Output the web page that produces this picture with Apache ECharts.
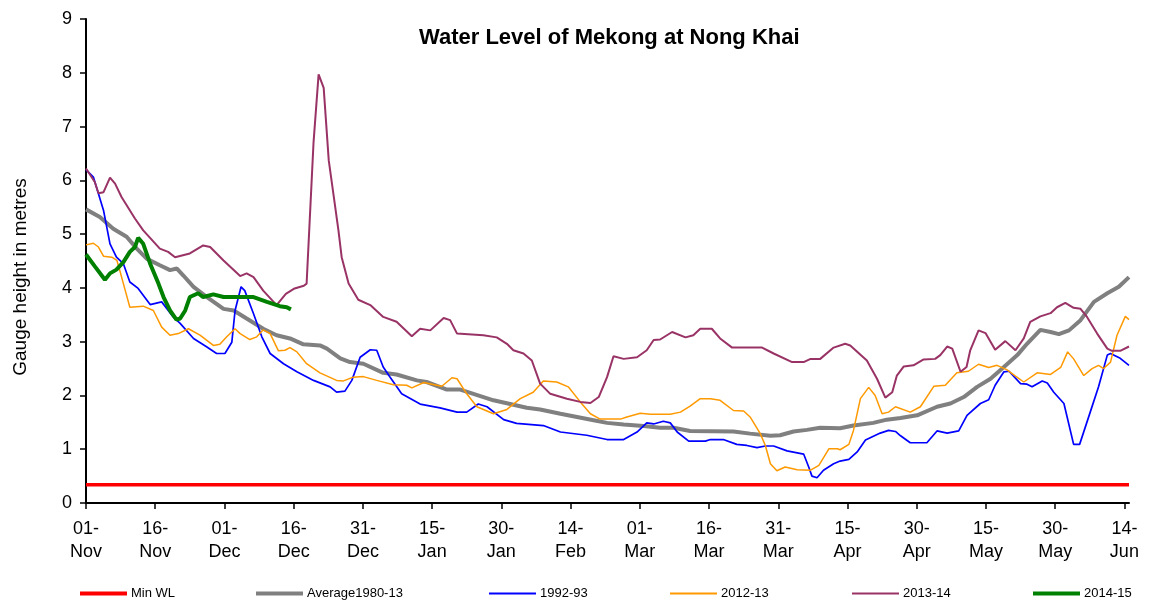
<!DOCTYPE html>
<html>
<head>
<meta charset="utf-8">
<script src="https://cdn.jsdelivr.net/npm/echarts@6/dist/echarts.min.js"></script>
<style>
html,body{margin:0;padding:0;background:#fff;}
#chart{width:1150px;height:604px;}
</style>
</head>
<body>
<div id="chart"></div>
<script>
// Day index 0 = 01-Nov; tick every 15 days
const tickLabels = ["01-\nNov","16-\nNov","01-\nDec","16-\nDec","31-\nDec","15-\nJan","30-\nJan","14-\nFeb","01-\nMar","16-\nMar","31-\nMar","15-\nApr","30-\nApr","15-\nMay","30-\nMay","14-\nJun"];
const lastDay = 226;
const minWL = 0.34;

// [day, gauge height m]
const average1980_13 = [[0,5.46],[3,5.32],[5.9,5.10],[8.8,4.95],[11,4.73],[13.2,4.54],[16,4.42],[18.2,4.33],[19.7,4.36],[21.1,4.23],[23.3,4.02],[26.2,3.83],[29.8,3.61],[32,3.58],[34.8,3.43],[38.4,3.24],[41.3,3.12],[44.2,3.06],[47.1,2.95],[50.7,2.93],[52.2,2.87],[55.1,2.69],[57.2,2.62],[60.1,2.59],[64.4,2.42],[67.3,2.39],[71.7,2.28],[73.8,2.25],[78.2,2.11],[81.1,2.11],[88.3,1.91],[91.9,1.84],[95.5,1.77],[98.4,1.74],[102.8,1.66],[106.4,1.60],[110,1.54],[112.9,1.49],[116.5,1.46],[120.8,1.43],[124.4,1.40],[127.3,1.40],[130.9,1.34],[140.3,1.33],[143.9,1.29],[148.3,1.25],[150.4,1.26],[153.3,1.33],[156.2,1.36],[159.1,1.40],[163.4,1.39],[166.3,1.44],[170.6,1.49],[173.5,1.55],[176.5,1.58],[180.1,1.63],[184.4,1.79],[187.3,1.85],[190.2,1.97],[193.1,2.16],[196,2.31],[198.9,2.53],[201.8,2.75],[203.9,2.96],[206.8,3.22],[209,3.18],[210.8,3.14],[213,3.21],[215.5,3.40],[218.4,3.74],[221.3,3.90],[223.8,4.02],[226,4.20]];

const y1992_93 = [[0,6.20],[1.6,6.06],[2.7,5.75],[3.8,5.44],[5.2,4.82],[6.6,4.57],[8.1,4.45],[9.5,4.11],[11.3,3.99],[13.9,3.69],[16.4,3.74],[18.9,3.46],[20.4,3.34],[23.3,3.06],[26.2,2.90],[28.3,2.78],[30.1,2.78],[31.6,2.99],[32.3,3.58],[33.6,4.02],[34.4,3.95],[36.3,3.52],[38.1,3.09],[39.9,2.78],[42.8,2.59],[45.7,2.44],[49.3,2.28],[52.9,2.16],[54.3,2.06],[56.1,2.08],[57.6,2.28],[59.4,2.71],[61.6,2.85],[63,2.84],[64.4,2.53],[65.9,2.34],[68.4,2.03],[72.4,1.84],[76.7,1.77],[80.4,1.69],[82.5,1.69],[85,1.84],[86.9,1.79],[90.5,1.55],[93.3,1.48],[99.1,1.44],[102.8,1.32],[108.5,1.26],[112.9,1.18],[116.5,1.18],[119.4,1.32],[121.5,1.49],[123,1.47],[125.1,1.52],[126.6,1.49],[128.1,1.32],[130.6,1.15],[134.2,1.15],[135.3,1.18],[138.1,1.18],[141,1.09],[143.2,1.07],[145.4,1.03],[147.2,1.06],[149,1.06],[151.9,0.97],[155.5,0.91],[156.6,0.67],[157.3,0.50],[158.4,0.47],[159.8,0.61],[162,0.73],[163.4,0.78],[165.3,0.81],[167.1,0.95],[168.9,1.17],[172.1,1.30],[173.9,1.35],[175.4,1.33],[176.5,1.25],[178.6,1.12],[182.2,1.12],[184.4,1.34],[186.6,1.30],[189.1,1.34],[190.9,1.63],[193.8,1.85],[195.6,1.92],[197,2.19],[198.9,2.44],[200,2.45],[202.5,2.22],[203.9,2.21],[205,2.16],[207.2,2.27],[208.3,2.23],[209.7,2.06],[211.9,1.85],[214,1.09],[215.3,1.09],[217.6,1.69],[219.4,2.16],[221.3,2.75],[222,2.78],[224.1,2.69],[226,2.56]];

const y2012_13 = [[0,4.80],[1.6,4.83],[2.7,4.76],[3.8,4.59],[5.6,4.57],[6.7,4.51],[7.4,4.30],[8.1,4.08],[9.5,3.64],[12.4,3.66],[14.6,3.58],[16.4,3.27],[18.2,3.12],[20,3.15],[22.2,3.24],[24.7,3.12],[27.6,2.93],[29,2.95],[30.5,3.09],[32.3,3.24],[33.4,3.15],[35.5,3.04],[37,3.09],[38.4,3.22],[39.9,3.15],[41.7,2.83],[43.1,2.84],[44.2,2.89],[45.7,2.81],[47.8,2.59],[50.7,2.42],[54.3,2.28],[55.8,2.27],[57.9,2.34],[60.1,2.35],[63,2.28],[66.6,2.20],[69.5,2.19],[70.6,2.14],[73.2,2.24],[76,2.19],[77.1,2.17],[79.3,2.33],[80.4,2.31],[82.5,2.03],[84.7,1.79],[88.3,1.66],[91.2,1.74],[94.1,1.94],[96.9,2.06],[99.1,2.27],[102,2.25],[104.5,2.16],[107.1,1.88],[109.3,1.66],[111.4,1.56],[115.8,1.56],[117.2,1.60],[120.1,1.67],[122.3,1.65],[126.6,1.65],[128.8,1.69],[130.9,1.80],[133.1,1.94],[135.3,1.94],[137.4,1.91],[140.3,1.72],[142.5,1.71],[143.9,1.60],[146.1,1.29],[147.2,1.07],[148.3,0.73],[149.7,0.60],[151.5,0.67],[154.1,0.62],[157,0.61],[158.8,0.70],[161,1.01],[162.8,1.01],[163.4,0.99],[165.3,1.09],[166.3,1.35],[167.8,1.94],[169.6,2.15],[171,2.00],[172.5,1.66],[173.9,1.69],[175.4,1.79],[178.6,1.69],[180.8,1.79],[183.7,2.17],[186.2,2.19],[188.7,2.42],[191.2,2.45],[193.4,2.58],[195.6,2.52],[197.4,2.56],[199.5,2.48],[201.4,2.36],[203.2,2.25],[206.1,2.42],[209,2.39],[211.2,2.52],[212.7,2.81],[214,2.68],[216.2,2.37],[218,2.50],[219.4,2.56],[220.5,2.50],[222,2.62],[223.4,3.12],[225.2,3.47],[226,3.41]];

const y2013_14 = [[0,6.22],[1.9,5.97],[2.7,5.76],[3.8,5.78],[5.2,6.05],[6.3,5.94],[7.7,5.69],[10.6,5.29],[12.4,5.07],[16,4.73],[17.8,4.67],[19.3,4.57],[22.5,4.64],[25.4,4.79],[26.9,4.76],[29.8,4.51],[33.4,4.22],[34.8,4.27],[36.3,4.20],[38.4,3.95],[41.3,3.68],[43.3,3.89],[45.2,3.99],[47.2,4.04],[47.8,4.08],[49.3,6.70],[50.4,7.97],[51.5,7.72],[52.6,6.37],[54.7,5.07],[55.4,4.57],[56.9,4.08],[59,3.78],[61.6,3.68],[64.4,3.46],[67.3,3.37],[70.6,3.10],[72.4,3.24],[74.6,3.21],[77.5,3.44],[78.9,3.40],[80.4,3.15],[86.1,3.12],[89,3.08],[91.2,2.96],[92.6,2.84],[94.8,2.78],[96.6,2.65],[98.4,2.22],[100.6,2.03],[104.2,1.94],[107.1,1.88],[109.3,1.86],[111.1,1.97],[112.9,2.34],[114.3,2.73],[116.5,2.68],[119.4,2.71],[121.5,2.84],[123,3.03],[124.4,3.04],[127,3.18],[129.9,3.08],[131.6,3.12],[133.1,3.24],[135.6,3.24],[137.4,3.06],[140,2.89],[146.5,2.89],[149,2.78],[153,2.62],[155.5,2.62],[157,2.68],[159.1,2.68],[162,2.89],[164.5,2.96],[165.6,2.93],[169.2,2.65],[171.4,2.31],[173.2,1.96],[174.7,2.06],[175.7,2.37],[177.2,2.54],[179.3,2.56],[181.5,2.67],[184,2.68],[185.1,2.75],[186.6,2.91],[187.7,2.87],[189.5,2.44],[190.8,2.53],[191.6,2.84],[193.4,3.21],[194.9,3.16],[197,2.85],[199.2,3.01],[201.4,2.84],[203.2,3.06],[204.6,3.37],[206.8,3.47],[209,3.53],[210.4,3.64],[212.2,3.72],[214,3.63],[215.5,3.61],[216.9,3.46],[219.1,3.15],[221.3,2.87],[222.3,2.83],[224.1,2.83],[226,2.91]];

const y2014_15 = [[0,4.62],[2,4.39],[4.1,4.15],[5.2,4.27],[6.6,4.34],[8.1,4.48],[9.5,4.67],[10.6,4.76],[11.3,4.93],[12.4,4.82],[13.9,4.45],[15.7,4.08],[16.8,3.83],[18.2,3.58],[19.6,3.41],[20.4,3.43],[21.5,3.58],[22.5,3.83],[24.3,3.90],[25.4,3.83],[27.6,3.88],[29.8,3.83],[36.3,3.83],[39.2,3.74],[42,3.66],[43.5,3.64],[44.4,3.60]];

const seriesNames = ["Min WL","Average1980-13","1992-93","2012-13","2013-14","2014-15"];
const seriesColors = ["#FF0000","#808080","#0000FF","#FF9900","#993366","#008000"];
const seriesWidths = [3.5,4,1.7,1.5,2,4];
const legendLeft = [80,256,489,670,852,1033];

const FONT = "'Liberation Sans', Arial, sans-serif";
const tickValues = tickLabels.map((_, i) => i * 15);
const minWLData = [[0, minWL], [lastDay, minWL]];
const dataSets = [minWLData, average1980_13, y1992_93, y2012_13, y2013_14, y2014_15];

const chart = echarts.init(document.getElementById('chart'), null, {renderer: 'canvas'});
chart.setOption({
  animation: false,
  backgroundColor: '#ffffff',
  title: {
    text: 'Water Level of Mekong at Nong Khai',
    left: 419, top: 27, padding: 0,
    textStyle: {fontFamily: FONT, fontSize: 22, fontWeight: 'bold', color: '#000', lineHeight: 22}
  },
  grid: {left: 86, right: 21, top: 19, bottom: 101},
  graphic: [{
    type: 'text', x: 21, y: 277, rotation: Math.PI / 2,
    style: {text: 'Gauge height in metres', fontFamily: FONT, fontSize: 19, fill: '#000', textAlign: 'center', textVerticalAlign: 'middle'}
  }],
  legend: seriesNames.map((n, i) => ({
    data: [{name: n, icon: 'rect'}],
    left: legendLeft[i], top: 587, padding: 0,
    itemWidth: 47, itemHeight: Math.max(2, Math.round(seriesWidths[i])),
    itemGap: 0, selectedMode: false,
    textStyle: {fontFamily: FONT, fontSize: 13, color: '#000', padding: [0,0,0,-1]}
  })),
  xAxis: {
    type: 'value', min: 0, max: lastDay, interval: 15,
    axisLine: {lineStyle: {color: '#000', width: 2}},
    axisTick: {show: true, length: 6, lineStyle: {color: '#000', width: 1.5}, customValues: tickValues},
    axisLabel: {
      customValues: tickValues, margin: 15, color: '#000', fontFamily: FONT, fontSize: 18, lineHeight: 23,
      formatter: v => { const k = Math.round(v / 15); return (Math.abs(v - k * 15) < 1e-6 && tickLabels[k]) ? tickLabels[k] : ''; }
    },
    splitLine: {show: false}
  },
  yAxis: {
    type: 'value', min: 0, max: 9, interval: 1,
    axisLine: {show: true, lineStyle: {color: '#000', width: 2}},
    axisTick: {show: true, length: 6, lineStyle: {color: '#000', width: 1.5}},
    axisLabel: {margin: 14, color: '#000', fontFamily: FONT, fontSize: 18},
    splitLine: {show: false}
  },
  series: seriesNames.map((n, i) => ({
    name: n, type: 'line', data: dataSets[i], showSymbol: false, symbol: 'none',
    color: seriesColors[i],
    lineStyle: {color: seriesColors[i], width: seriesWidths[i]},
    z: 2 + i
  }))
});
</script>
</body>
</html>
